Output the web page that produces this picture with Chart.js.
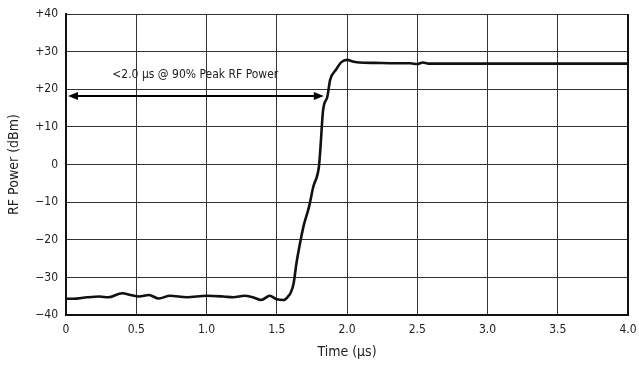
<!DOCTYPE html>
<html>
<head>
<meta charset="utf-8">
<script src="https://cdn.jsdelivr.net/npm/chart.js@4/dist/chart.umd.min.js"></script>
<style>
  html, body { margin: 0; padding: 0; background: #fff; }
  #wrap { width: 639px; height: 365px; position: relative; }
</style>
</head>
<body>
<div id="wrap"><canvas id="rfChart"></canvas></div>
<script>
// time axis (µs) and measured RF power (dBm)
const times = [0, 0.05, 0.15, 0.24, 0.30, 0.40, 0.46, 0.52, 0.59, 0.66, 0.74, 0.86, 1.0, 1.12, 1.19, 1.27, 1.33, 1.39, 1.45, 1.50, 1.55, 1.58,
  1.60, 1.62, 1.64, 1.67, 1.69, 1.73, 1.76, 1.80, 1.81, 1.83, 1.86, 1.88, 1.92, 1.96, 2.00, 2.05, 2.09, 2.2, 2.35, 2.45, 2.5, 2.54, 2.58, 3.0, 3.5, 4.0];
const powerDbm = [-35.7, -35.7, -35.3, -35.1, -35.3, -34.2, -34.7, -35.1, -34.7, -35.6, -34.9, -35.3, -34.9, -35.1, -35.3, -34.9, -35.3, -36.0, -34.9, -35.8, -36.0, -35.1,
  -34.0, -31.6, -26.3, -20.1, -16.5, -11.2, -5.9, -0.6, 3.9, 14.5, 18.0, 22.5, 25.1, 27.2, 27.8, 27.3, 27.1, 27.0, 26.9, 26.9, 26.7, 27.1, 26.8, 26.8, 26.8, 26.8];

const xTicks = [0, 0.5, 1.0, 1.5, 2.0, 2.5, 3.0, 3.5, 4.0];
const yTicks = [-40, -30, -20, -10, 0, 10, 20, 30, 40];

// annotation: arrow span (µs) and level (dBm)
const arrowFrom = 0;
const arrowTo = 1.835;
const arrowLevel = 18.2;
const noteText = '<2.0 \u00b5s @ 90% Peak RF Power';
const notePos = [0.92, 23.9];

const fontFam = '"DejaVu Sans Condensed", "Liberation Sans Narrow", "Liberation Sans", sans-serif';

const fmtY = v => v > 0 ? '+' + v : (v < 0 ? '\u2212' + Math.abs(v) : '0');
const fmtX = v => v === 0 ? '0' : v.toFixed(1);

const annotate = {
  id: 'annotate',
  afterDatasetsDraw(chart) {
    const { ctx, scales: { x, y } } = chart;
    const x1 = x.getPixelForValue(arrowFrom) + 2;
    const x2 = x.getPixelForValue(arrowTo);
    const yy = y.getPixelForValue(arrowLevel);
    ctx.save();
    ctx.strokeStyle = '#000';
    ctx.fillStyle = '#000';
    ctx.lineWidth = 2.2;
    ctx.beginPath();
    ctx.moveTo(x1 + 8, yy);
    ctx.lineTo(x2 - 8, yy);
    ctx.stroke();
    // heads
    ctx.beginPath();
    ctx.moveTo(x1, yy);
    ctx.lineTo(x1 + 10, yy - 4);
    ctx.lineTo(x1 + 10, yy + 4);
    ctx.closePath();
    ctx.fill();
    ctx.beginPath();
    ctx.moveTo(x2, yy);
    ctx.lineTo(x2 - 10, yy - 4);
    ctx.lineTo(x2 - 10, yy + 4);
    ctx.closePath();
    ctx.fill();
    ctx.font = '12px ' + fontFam;
    ctx.textAlign = 'center';
    ctx.textBaseline = 'middle';
    ctx.fillStyle = '#222';
    ctx.fillText(noteText, x.getPixelForValue(notePos[0]), y.getPixelForValue(notePos[1]));
    ctx.restore();
  }
};

new Chart(document.getElementById('rfChart'), {
  type: 'line',
  data: {
    datasets: [{
      data: times.map((t, i) => ({ x: t, y: powerDbm[i] })),
      borderColor: '#111',
      borderWidth: 2.6,
      pointRadius: 0,
      cubicInterpolationMode: 'monotone',
      fill: false
    }]
  },
  options: {
    responsive: true,
    maintainAspectRatio: false,
    animation: false,
    layout: { padding: { top: 14, right: 11, left: 0, bottom: 0 } },
    plugins: { legend: { display: false }, tooltip: { enabled: false } },
    scales: {
      x: {
        type: 'linear',
        min: 0, max: 4,
        afterBuildTicks: axis => { axis.ticks = xTicks.map(v => ({ value: v })); },
        afterFit: axis => { axis.height = 50; axis.paddingLeft = 0; axis.paddingRight = 0; },
        grid: { color: '#333', lineWidth: 1, drawTicks: false },
        border: { color: '#111', width: 2 },
        ticks: { color: '#222', font: { size: 12, family: fontFam }, padding: 8, maxRotation: 0, callback: v => fmtX(v) },
        title: { display: true, text: 'Time (\u00b5s)', color: '#222', font: { size: 14, family: fontFam }, padding: { top: 6 } }
      },
      y: {
        min: -40, max: 40,
        afterBuildTicks: axis => { axis.ticks = yTicks.map(v => ({ value: v })); },
        afterFit: axis => { axis.width = 66; axis.paddingTop = 0; axis.paddingBottom = 0; },
        grid: { color: '#333', lineWidth: 1, drawTicks: false },
        border: { color: '#111', width: 2 },
        ticks: { color: '#222', font: { size: 12, family: fontFam }, padding: 8, callback: v => fmtY(v) },
        title: { display: true, text: 'RF Power (dBm)', color: '#222', font: { size: 14, family: fontFam }, padding: { top: 6, bottom: 6 } }
      }
    }
  },
  plugins: [annotate, {
    id: 'rightBorder',
    afterDraw(chart) {
      const { ctx, chartArea: a } = chart;
      ctx.save();
      ctx.strokeStyle = '#111';
      ctx.lineWidth = 2;
      ctx.beginPath();
      ctx.moveTo(a.right, a.top);
      ctx.lineTo(a.right, a.bottom);
      ctx.stroke();
      ctx.restore();
    }
  }]
});
</script>
</body>
</html>
